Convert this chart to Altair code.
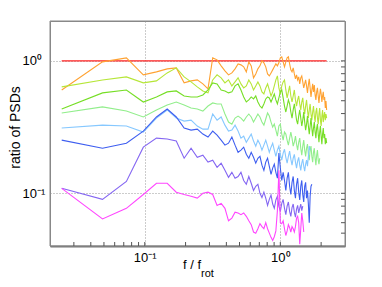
import altair as alt
import pandas as pd

# frequency step (f / f_rot) of the uniform spectral grid
DF = 0.0244

red = [1.0] * 90
orange = [0.603,0.983,1.053,0.784,0.826,0.870,0.885,0.682,0.706,0.718,
 0.670,0.614,1.053,1.018,0.917,0.840,0.784,0.811,0.870,0.949,
 0.933,0.901,0.826,0.983,0.917,0.744,0.797,0.870,0.917,1.000,
 0.966,0.901,0.797,0.770,0.811,0.855,0.901,0.949,0.917,0.966,
 1.053,1.072,0.983,0.901,0.983,1.053,1.072,0.949,0.855,0.826,
 0.885,0.797,0.731,0.784,0.718,0.757,0.670,0.744,0.770,0.694,
 0.625,0.670,0.718,0.647,0.573,0.658,0.731,0.625,0.534,0.603,
 0.670,0.583,0.658,0.553,0.507,0.583,0.625,0.543,0.481,0.553,
 0.614,0.563,0.489,0.543,0.583,0.507,0.534,0.441,0.498,0.426]
yellowgreen = [0.636,0.718,0.757,0.682,0.706,0.811,0.885,0.757,0.694,0.636,
 0.593,0.573,0.718,0.784,0.744,0.682,0.718,0.647,0.694,0.744,
 0.670,0.625,0.647,0.718,0.670,0.603,0.647,0.694,0.647,0.583,
 0.563,0.625,0.670,0.603,0.543,0.583,0.647,0.718,0.770,0.625,
 0.563,0.647,0.694,0.718,0.603,0.525,0.583,0.647,0.543,0.489,
 0.543,0.603,0.507,0.456,0.507,0.543,0.473,0.426,0.489,0.525,
 0.441,0.397,0.456,0.507,0.426,0.370,0.426,0.473,0.397,0.357,
 0.411,0.456,0.383,0.345,0.411,0.441,0.370,0.333,0.397,0.441,
 0.357,0.322,0.383,0.426,0.345,0.383,0.411,0.357,0.397,0.370]
green = [0.433,0.573,0.603,0.489,0.534,0.583,0.593,0.543,0.534,0.534,
 0.553,0.603,0.682,0.670,0.603,0.593,0.573,0.583,0.647,0.670,
 0.603,0.534,0.489,0.507,0.534,0.516,0.543,0.489,0.456,0.441,
 0.473,0.516,0.534,0.525,0.489,0.525,0.563,0.507,0.473,0.525,
 0.583,0.603,0.525,0.456,0.411,0.456,0.507,0.473,0.411,0.370,
 0.426,0.473,0.411,0.357,0.333,0.383,0.426,0.370,0.322,0.357,
 0.411,0.345,0.300,0.333,0.383,0.322,0.280,0.322,0.370,0.311,
 0.270,0.311,0.345,0.290,0.261,0.311,0.333,0.280,0.243,0.290,
 0.322,0.270,0.235,0.280,0.311,0.261,0.280,0.235,0.261,0.239]
lightgreen = [0.404,0.449,0.418,0.377,0.426,0.464,0.489,0.464,0.441,0.433,
 0.418,0.456,0.481,0.473,0.473,0.397,0.345,0.333,0.370,0.383,
 0.370,0.351,0.377,0.397,0.377,0.345,0.370,0.397,0.377,0.345,
 0.327,0.364,0.404,0.383,0.345,0.316,0.333,0.300,0.270,0.322,
 0.333,0.280,0.252,0.290,0.280,0.252,0.231,0.261,0.290,0.261,
 0.227,0.243,0.270,0.235,0.212,0.243,0.261,0.219,0.194,0.227,
 0.252,0.212,0.190,0.219,0.235,0.197,0.178,0.212,0.227,0.190,
 0.172,0.204,0.219,0.184,0.163,0.194,0.212,0.178,0.166,0.184]
lightblue = [0.311,0.327,0.322,0.290,0.370,0.426,0.370,0.351,0.357,0.322,
 0.305,0.305,0.397,0.357,0.377,0.327,0.295,0.300,0.327,0.295,
 0.261,0.270,0.243,0.261,0.280,0.248,0.227,0.252,0.235,0.212,
 0.231,0.252,0.227,0.204,0.223,0.239,0.212,0.190,0.212,0.227,
 0.197,0.178,0.201,0.215,0.187,0.169,0.190,0.208,0.181,0.163,
 0.184,0.197,0.172,0.155,0.175,0.187,0.163,0.149,0.169,0.181,
 0.160,0.147,0.166,0.178,0.160,0.190,0.227,0.212]
blue = [0.252,0.219,0.239,0.295,0.377,0.433,0.377,0.311,0.300,0.305,
 0.280,0.266,0.295,0.275,0.252,0.231,0.239,0.266,0.231,0.204,
 0.212,0.223,0.197,0.184,0.204,0.187,0.169,0.184,0.190,0.163,
 0.149,0.172,0.184,0.160,0.139,0.155,0.166,0.144,0.130,0.201,
 0.155,0.125,0.144,0.125,0.105,0.130,0.144,0.113,0.098,0.121,
 0.134,0.105,0.092,0.117,0.130,0.102,0.089,0.113,0.125,0.098,
 0.086,0.113,0.121,0.092,0.105,0.083,0.060,0.095,0.113,0.117]
purple = [0.109,0.090,0.123,0.223,0.261,0.257,0.248,0.184,0.219,0.187,
 0.194,0.172,0.178,0.157,0.169,0.149,0.132,0.144,0.130,0.134,
 0.144,0.125,0.117,0.134,0.119,0.105,0.113,0.117,0.100,0.093,
 0.102,0.092,0.081,0.090,0.097,0.083,0.077,0.089,0.095,0.080,
 0.073,0.084,0.090,0.077,0.069,0.080,0.086,0.073,0.067,0.078,
 0.083,0.072,0.066,0.076,0.081,0.071,0.077,0.083,0.074,0.080]
magenta = [0.109,0.064,0.077,0.098,0.119,0.119,0.102,0.098,0.095,0.092,
 0.100,0.102,0.098,0.081,0.084,0.077,0.062,0.065,0.072,0.071,
 0.069,0.071,0.067,0.062,0.058,0.051,0.050,0.054,0.059,0.056,
 0.054,0.060,0.054,0.050,0.0465,0.044,0.047,0.052,0.074,0.149,
 0.060,0.059,0.062,0.054,0.048,0.052,0.058,0.055,0.051,0.056,
 0.054,0.051,0.056,0.065,0.067,0.060,0.0413,0.054,0.071,0.062,0.051]

names = ["red", "orange", "yellowgreen", "green", "lightgreen",
         "lightblue", "blue", "purple", "magenta"]
colors = ["#ff2222", "#ffa232", "#b6e638", "#76de26", "#92ee8c",
          "#86c8ff", "#3e5ef0", "#8466f2", "#ff46ff"]
series = [red, orange, yellowgreen, green, lightgreen,
          lightblue, blue, purple, magenta]

x_ticks = [0.03, 0.04, 0.05, 0.06, 0.07, 0.08, 0.09, 0.1,
           0.2, 0.3, 0.4, 0.5, 0.6, 0.7, 0.8, 0.9, 1, 2]
y_ticks = [0.05, 0.06, 0.07, 0.08, 0.09, 0.1,
           0.2, 0.3, 0.4, 0.5, 0.6, 0.7, 0.8, 0.9, 1]

rows = []
for n, vals in zip(names, series):
    for i, v in enumerate(vals):
        rows.append({"s": n, "f": (i + 1) * DF, "r": v})
data = pd.DataFrame(rows)

W, H = 295, 225
FONT = "Liberation Sans"
xscale = alt.Scale(type="log", domain=[0.02, 3])
yscale = alt.Scale(type="log", domain=[0.04, 2])
sup = "datum.value < 0.5 ? '10\u207b\u00b9' : '10\u2070'"

xaxis = alt.Axis(
    values=[0.1, 1], labelExpr=sup, ticks=False, tickSize=0,
    grid=True, gridDash=[1, 2], gridColor="#999999",
    domain=True, domainColor="#777777", domainWidth=2,
    labelFontSize=13, labelPadding=5, title=None)
yaxis = alt.Axis(
    values=[0.1, 1], labelExpr=sup, ticks=False, tickSize=0,
    grid=True, gridDash=[1, 2], gridColor="#999999", domain=False,
    labelAlign="left", labelPadding=28, labelFontSize=13,
    title="ratio of PSDs", titleFontSize=14, titleFontWeight="normal",
    titleX=-31, titleY=106, titleBaseline="alphabetic")

frame = alt.Chart(pd.DataFrame({"t": [0]})).mark_rect(
    fill=None, stroke="#888888", strokeWidth=1
).encode(x=alt.value(0), x2=alt.value(W), y=alt.value(0), y2=alt.value(H))

lines = alt.Chart(data).mark_line(strokeWidth=1.1, clip=True).encode(
    x=alt.X("f:Q", scale=xscale, axis=xaxis),
    y=alt.Y("r:Q", scale=yscale, axis=yaxis),
    color=alt.Color("s:N", scale=alt.Scale(domain=names, range=colors), legend=None),
)

xt = alt.Chart(pd.DataFrame({"f": x_ticks})).mark_rule(color="#555555").encode(
    x=alt.X("f:Q", scale=xscale, axis=xaxis), y=alt.value(H), y2=alt.value(H - 4))
yt = alt.Chart(pd.DataFrame({"r": y_ticks})).mark_rule(color="#555555").encode(
    y=alt.Y("r:Q", scale=yscale, axis=yaxis), x=alt.value(W), x2=alt.value(W - 4))

t1 = alt.Chart(pd.DataFrame({"t": ["f / f"]})).mark_text(
    font=FONT, fontSize=13, align="right", baseline="alphabetic", color="black"
).encode(text="t:N", x=alt.value(151), y=alt.value(248))
t2 = alt.Chart(pd.DataFrame({"t": ["rot"]})).mark_text(
    font=FONT, fontSize=11, align="left", baseline="alphabetic", color="black"
).encode(text="t:N", x=alt.value(151), y=alt.value(256))

chart = alt.layer(frame, lines, xt, yt, t1, t2).properties(
    width=W, height=H,
    autosize=alt.AutoSizeParams(type="none"),
    padding={"left": 42, "top": 13, "right": 20, "bottom": 45},
).configure_view(stroke="#888888", strokeWidth=1).configure_axis(
    labelFont=FONT, titleFont=FONT, labelColor="black", titleColor="black")

chart.save("out.html", embed_options={"renderer": "svg", "actions": False})
